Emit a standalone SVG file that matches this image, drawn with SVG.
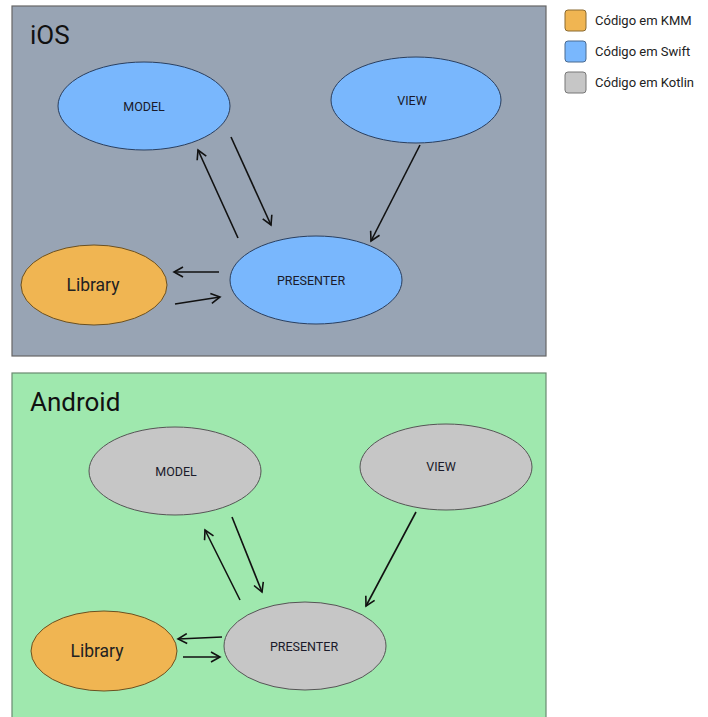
<svg xmlns="http://www.w3.org/2000/svg" width="708" height="717" viewBox="0 0 708 717">
<defs>
<marker id="ah" markerWidth="12" markerHeight="12" refX="10" refY="6" orient="auto" markerUnits="userSpaceOnUse">
<path d="M1,1 L10,6 L1,11" fill="none" stroke="#111" stroke-width="1.6"/>
</marker>
<style>
.t{font-family:Roboto,"Liberation Sans",sans-serif;}
.panel-ios{fill:#98a4b4;stroke:#666;stroke-width:1.2}
.panel-and{fill:#9fe8ae;stroke:#6a8a70;stroke-width:1.2}
.blue{fill:#79b7fd;stroke:#2a3f5f;stroke-width:1}
.gray{fill:#c6c6c6;stroke:#555;stroke-width:1}
.orange{fill:#f0b552;stroke:#6b5020;stroke-width:1}
.lbl{font-size:12.5px;fill:#1a1a2a;text-anchor:middle}
.lib{font-size:17.5px;fill:#222;text-anchor:middle}
.title{font-size:26px;fill:#111}
.leg{font-size:13px;fill:#222}
.conn line{stroke:#111;stroke-width:1.6;marker-end:url(#ah)}
</style>
</defs>
<rect width="708" height="717" fill="#ffffff"/>
<rect class="panel-ios" x="12" y="6" width="534" height="350"/>
<rect class="panel-and" x="12" y="373" width="534" height="350"/>
<text class="t title" x="30" y="44">iOS</text>
<text class="t title" x="30" y="411">Android</text>

<g id="legend">
<rect x="565" y="10" width="21" height="21" rx="3" fill="#f0b552" stroke="#8a6a30"/>
<text class="t leg" x="595" y="25">Código em KMM</text>
<rect x="565" y="41" width="21" height="21" rx="3" fill="#79b7fd" stroke="#4a6a90"/>
<text class="t leg" x="595" y="56">Código em Swift</text>
<rect x="565" y="72" width="21" height="21" rx="3" fill="#c6c6c6" stroke="#777"/>
<text class="t leg" x="595" y="87">Código em Kotlin</text>
</g>

<g id="ios-model"><ellipse class="blue" cx="144" cy="106" rx="86" ry="44"/><text class="t lbl" x="144" y="111">MODEL</text></g>
<g id="ios-view"><ellipse class="blue" cx="416" cy="100" rx="85" ry="43"/><text class="t lbl" x="412" y="105">VIEW</text></g>
<g id="ios-presenter"><ellipse class="blue" cx="316" cy="280" rx="86" ry="44"/><text class="t lbl" x="311" y="285">PRESENTER</text></g>
<g id="ios-library"><ellipse class="orange" cx="94" cy="285" rx="73" ry="40"/><text class="t lib" x="93" y="291">Library</text></g>

<g id="and-model"><ellipse class="gray" cx="175" cy="471" rx="86" ry="44"/><text class="t lbl" x="176" y="476">MODEL</text></g>
<g id="and-view"><ellipse class="gray" cx="446" cy="467" rx="86" ry="43"/><text class="t lbl" x="441" y="471">VIEW</text></g>
<g id="and-presenter"><ellipse class="gray" cx="305" cy="646" rx="81" ry="44"/><text class="t lbl" x="304" y="651">PRESENTER</text></g>
<g id="and-library"><ellipse class="orange" cx="104" cy="651" rx="73" ry="40"/><text class="t lib" x="97" y="657">Library</text></g>

<g id="connectors" class="conn">
<line x1="238" y1="238" x2="198" y2="150"/>
<line x1="231" y1="137" x2="271" y2="225"/>
<line x1="420" y1="145" x2="371" y2="241"/>
<line x1="219" y1="272" x2="174" y2="272"/>
<line x1="175" y1="304" x2="220" y2="297"/>
<line x1="240" y1="600" x2="205" y2="530"/>
<line x1="232" y1="517" x2="262" y2="592"/>
<line x1="416" y1="512" x2="366" y2="606"/>
<line x1="222" y1="637" x2="178" y2="639"/>
<line x1="183" y1="657" x2="220" y2="657"/>
</g>
</svg>
